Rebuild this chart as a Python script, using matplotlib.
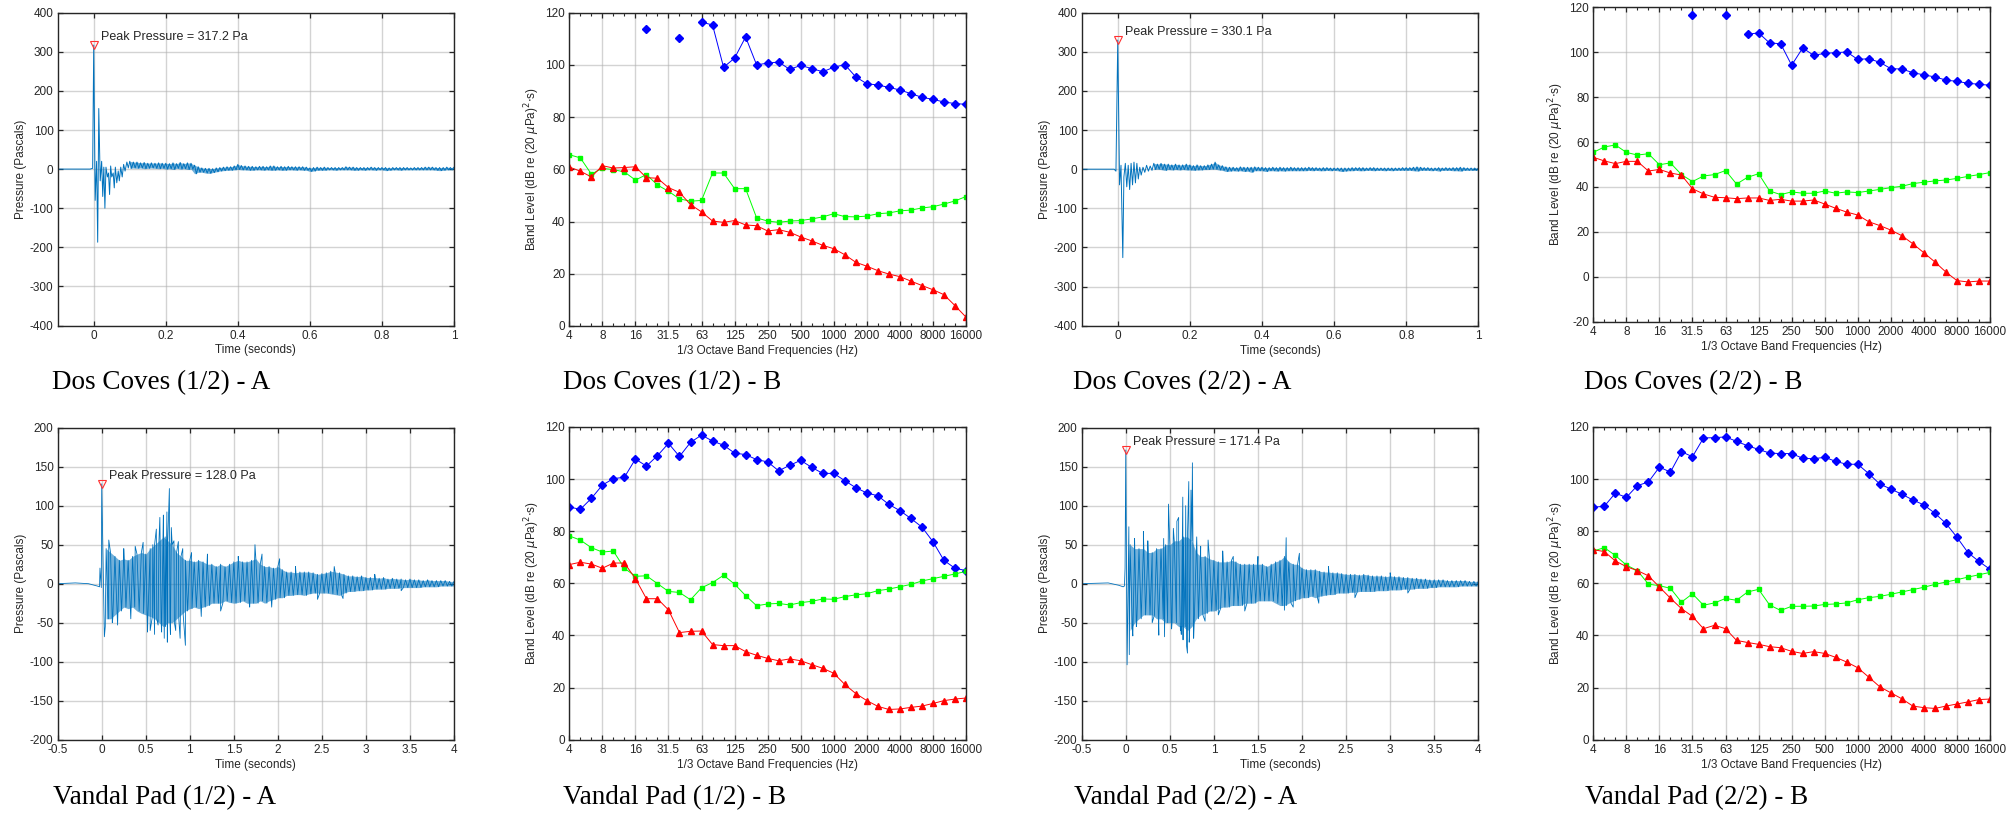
import numpy as np
import matplotlib
matplotlib.use("Agg")
import matplotlib.pyplot as plt
from matplotlib.ticker import FixedLocator, FormatStrFormatter

plt.rcParams['font.family'] = ['Liberation Sans', 'DejaVu Sans']
plt.rcParams['mathtext.fontset'] = 'dejavusans'
plt.rcParams['axes.unicode_minus'] = False

WAVE_C = '#0072BD'
TXT_C = '#262626'

# ---------------- 1/3 octave band data (index 0..36 = 4 Hz .. 16 kHz) ----------------
band_labels = ['4', '8', '16', '31.5', '63', '125', '250', '500', '1000',
               '2000', '4000', '8000', '16000']
nan = np.nan

dc1_blue = [nan, nan, nan, nan, nan, nan, nan, 113.7, nan, nan, 110.3, nan,
            116.4, 115.3, 99.1, 102.6, 110.7, 100.0, 100.7, 101.1, 98.3, 99.8,
            98.6, 97.4, 99.1, 100.1, 95.4, 92.8, 92.3, 91.4, 90.4, 89.0, 87.6,
            86.8, 85.8, 85.2, 84.9]
dc1_green = [65.6, 64.4, 58.2, 60.4, 59.9, 59.0, 55.9, 58.0, 54.0, 51.6, 48.7,
             47.8, 48.1, 58.6, 58.6, 52.6, 52.6, 41.4, 40.2, 39.7, 40.2, 40.4,
             41.0, 41.8, 43.0, 41.9, 41.8, 42.1, 43.0, 43.3, 44.1, 44.4, 45.2,
             45.7, 46.7, 47.9, 49.6]
dc1_red = [60.9, 59.3, 57.1, 61.4, 60.5, 60.7, 61.0, 56.8, 56.6, 53.0, 51.2,
           46.5, 43.7, 40.2, 39.7, 40.4, 38.7, 38.4, 36.4, 36.9, 35.9, 34.1,
           32.6, 30.9, 29.6, 27.3, 24.4, 22.9, 21.2, 19.9, 18.9, 17.2, 15.5,
           13.9, 12.0, 7.8, 3.4]

dc2_blue = [nan, nan, nan, nan, nan, nan, nan, nan, nan, 116.6, nan, nan,
            116.4, nan, 108.0, 108.6, 104.1, 103.8, 94.2, 101.9, 98.6, 99.5,
            99.8, 100.1, 96.8, 97.1, 95.5, 92.7, 92.5, 90.9, 89.9, 89.0, 87.6,
            87.0, 86.2, 85.7, 85.3]
dc2_green = [55.4, 57.8, 58.7, 55.4, 54.2, 54.8, 49.9, 50.7, 45.5, 42.4, 44.9,
             45.5, 47.3, 41.3, 44.3, 45.9, 38.2, 36.6, 37.8, 37.2, 37.2, 38.2,
             37.2, 37.8, 37.5, 38.2, 38.9, 39.7, 40.3, 41.5, 42.1, 42.7, 43.1,
             43.8, 44.7, 45.5, 46.4]
dc2_red = [53.2, 51.6, 50.4, 51.4, 51.4, 47.1, 47.8, 46.2, 45.3, 39.2, 36.9,
           35.4, 35.2, 34.8, 35.1, 35.1, 34.0, 34.5, 33.7, 33.7, 34.2, 32.4,
           30.5, 28.8, 27.5, 24.5, 22.8, 20.8, 18.3, 14.7, 10.7, 6.6, 2.1,
           -1.7, -2.3, -1.9, -1.9]

vp1_blue = [89.3, 88.4, 92.6, 97.7, 100.2, 100.7, 107.7, 105.0, 109.0, 113.7,
            108.7, 114.1, 116.9, 114.6, 113.0, 110.0, 109.4, 107.5, 106.6,
            103.2, 105.3, 107.2, 104.5, 102.2, 102.2, 99.4, 96.7, 94.7, 93.6,
            90.3, 87.9, 84.9, 81.6, 76.0, 68.8, 65.8, 64.9]
vp1_green = [78.2, 76.6, 73.7, 72.0, 72.4, 65.8, 62.7, 62.9, 59.9, 56.9, 56.5,
             53.7, 58.3, 60.3, 63.1, 59.7, 55.3, 51.4, 52.1, 52.3, 51.7, 52.6,
             53.1, 54.0, 53.9, 54.9, 55.6, 56.0, 57.2, 57.8, 58.7, 59.6, 60.9,
             61.8, 62.7, 63.6, 64.6]
vp1_red = [67.2, 68.1, 67.4, 65.8, 67.8, 67.8, 61.8, 54.1, 54.1, 49.8, 41.1,
           41.6, 41.7, 36.5, 36.1, 36.1, 33.8, 32.4, 31.2, 30.3, 31.0, 30.3,
           28.8, 27.4, 25.5, 21.2, 17.7, 15.0, 12.8, 11.6, 11.8, 12.4, 12.9,
           13.9, 15.0, 15.6, 16.0]

vp2_blue = [89.2, 89.6, 94.6, 93.0, 97.5, 98.9, 104.6, 102.7, 110.5, 108.6,
            115.8, 115.9, 116.2, 114.5, 112.8, 111.4, 110.0, 109.8, 109.8,
            108.0, 107.8, 108.4, 106.8, 105.7, 105.7, 102.1, 98.1, 96.2, 94.2,
            92.0, 90.1, 86.9, 83.0, 77.7, 71.8, 68.4, 65.4]
vp2_green = [72.4, 73.7, 70.7, 67.0, 64.9, 59.7, 59.1, 58.1, 52.8, 56.0, 51.6,
             52.5, 54.2, 53.5, 56.7, 57.7, 51.7, 49.6, 51.2, 51.2, 51.3, 51.9,
             52.1, 52.5, 53.7, 54.5, 55.0, 55.8, 56.7, 57.6, 58.5, 59.6, 60.5,
             61.4, 62.4, 63.3, 64.2]
vp2_red = [72.9, 72.2, 68.6, 66.4, 64.9, 62.9, 58.6, 54.3, 50.3, 47.3, 42.6,
           43.9, 42.6, 38.1, 37.3, 36.6, 35.7, 35.3, 33.9, 33.1, 33.8, 33.1,
           31.6, 29.8, 27.6, 24.0, 20.3, 18.0, 15.7, 12.9, 12.3, 12.0, 12.9,
           13.7, 14.5, 15.4, 15.6]

# ---------------- pressure waveforms ----------------
# Dos Coves: explicit transient points, then hi/lo per 10 ms bin (0.10 .. 1.00 s)
dc1_peak = 317.2
dc1_tr_t = [-0.1, -0.01, -0.003, 0.0, 0.004, 0.008, 0.011, 0.014, 0.018, 0.022,
            0.025, 0.028, 0.031, 0.034, 0.038, 0.041, 0.044, 0.047, 0.050,
            0.054, 0.057, 0.060, 0.064, 0.068, 0.071, 0.075, 0.079, 0.083,
            0.087, 0.092, 0.096]
dc1_tr_p = [0, 0, 2, 317.2, -80, 20, -187, 155, -30, 20, -70, 5, -100, 5, -20,
            -10, -65, 8, -20, -10, -48, 5, -35, -5, -30, 5, -20, 12, -5, 18, 3]
dc1_hi = [20, 18, 18, 16, 17, 15, 16, 15, 16, 15,
          15, 14, 16, 14, 17, 14, 16, 15, 10, 6,
          3, 2, 2, 1, 3, 4, 5, 6, 6, 8,
          12, 9, 8, 7, 7, 6, 7, 7, 6, 8,
          8, 6, 7, 6, 7, 6, 6, 6, 6, 5,
          3, 4, 5, 4, 5, 4, 4, 4, 4, 4,
          6, 5, 5, 4, 4, 4, 4, 5, 4, 4,
          4, 4, 3, 4, 4, 4, 4, 4, 3, 4,
          4, 4, 5, 5, 5, 4, 4, 4, 5, 4, 5]
dc1_lo = [2, 3, 2, 3, 1, 2, 3, 2, 1, 2,
          0, 1, -1, 2, 0, 1, -1, 0, -12, -8,
          -8, -10, -11, -9, -7, -5, -4, -3, -3, -2,
          -1, -2, -2, -3, -3, -2, -2, -3, -2, -3,
          -3, -2, -3, -3, -2, -2, -3, -2, -3, -3,
          -6, -5, -3, -3, -3, -2, -2, -3, -2, -2,
          -2, -2, -3, -3, -2, -3, -2, -2, -3, -2,
          -2, -4, -3, -2, -2, -3, -2, -2, -2, -2,
          -2, -2, -2, -2, -2, -3, -4, -3, -2, -2, -1]

dc2_peak = 330.1
dc2_tr_t = [-0.1, -0.01, -0.005, 0.0, 0.005, 0.009, 0.014, 0.017, 0.021, 0.025,
            0.029, 0.033, 0.037, 0.041, 0.045, 0.049, 0.053, 0.057, 0.061,
            0.065, 0.070, 0.075, 0.080, 0.085, 0.090, 0.095]
dc2_tr_p = [0, 0, -5, 330.1, -40, 10, -226, -20, 15, -45, 10, -52, 15, -40, 18,
            -35, 15, -25, 5, -15, 5, -8, 10, -5, 8, -3]
dc2_hi = [15, 13, 15, 13, 13, 11, 13, 11, 11, 13,
          11, 9, 11, 9, 9, 11, 13, 18, 11, 9,
          6, 5, 5, 4, 6, 5, 5, 5, 6, 5,
          5, 4, 4, 5, 4, 5, 4, 4, 5, 4,
          4, 4, 4, 5, 4, 4, 3, 4, 4, 3,
          3, 3, 3, 3, 3, 4, 4, 4, 4, 3,
          4, 4, 3, 3, 3, 3, 3, 3, 3, 4,
          4, 4, 5, 6, 5, 4, 4, 3, 3, 4,
          3, 4, 3, 4, 4, 5, 4, 3, 3, 3, 3]
dc2_lo = [-1, 0, -1, -3, -1, -2, -1, -2, -1, -2,
          -2, -3, -2, -2, -1, -1, 0, 0, -2, -3,
          -6, -5, -4, -5, -4, -6, -5, -8, -4, -4,
          -4, -6, -4, -4, -5, -4, -5, -4, -4, -4,
          -4, -4, -4, -3, -4, -3, -4, -4, -3, -4,
          -3, -4, -6, -5, -4, -4, -3, -4, -4, -3,
          -3, -4, -3, -3, -4, -3, -4, -3, -3, -3,
          -3, -3, -4, -5, -3, -3, -3, -4, -3, -5,
          -3, -3, -3, -4, -4, -5, -3, -3, -3, -3, -2]

# Vandal Pad: pre-trigger points, hi/lo per 50 ms bin (0.05 .. 4.00 s), plus spikes
vp1_peak = 128.0
vp1_pre_t = [-0.5, -0.3, -0.15, -0.05, -0.025, -0.02, -0.005, 0.0]
vp1_pre_p = [0, 1, 0, -3, -4, 20, -5, 128.0]
vp1_hi = [45, 40, 35, 30, 32, 30, 35, 38, 40, 38, 45, 50, 55, 60, 55, 50, 40, 35,
          30, 30, 28, 30, 28, 25, 25, 22, 25, 22, 25, 28, 30, 28, 28, 30, 32, 25,
          22, 22, 20, 22, 18, 15, 15, 14, 15, 15, 15, 14, 12, 13, 14, 16, 15, 14,
          12, 10, 10, 9, 10, 8, 8, 8, 7, 8, 6, 7, 6, 6, 5, 6, 5, 5, 4, 5, 4, 4,
          4, 4, 3, 3]
vp1_lo = [-45, -45, -40, -35, -30, -32, -30, -35, -38, -40, -42, -45, -50, -55,
          -50, -50, -45, -40, -35, -32, -30, -32, -30, -28, -25, -25, -25, -22,
          -24, -25, -24, -22, -25, -25, -25, -22, -25, -22, -20, -18, -18, -15,
          -15, -14, -14, -15, -13, -12, -12, -12, -12, -13, -14, -15, -12, -10,
          -10, -9, -9, -8, -8, -7, -7, -7, -6, -6, -6, -5, -5, -5, -5, -5, -4,
          -4, -4, -4, -3, -3, -3, -3]
vp1_spk_t = [0.03, 0.04, 0.08, 0.12, 0.18, 0.25, 0.33, 0.38, 0.47, 0.52, 0.55,
             0.58, 0.60, 0.62, 0.64, 0.66, 0.68, 0.70, 0.71, 0.72, 0.74, 0.745,
             0.768, 0.78, 0.79, 0.82, 0.84, 0.87, 0.89, 0.92, 0.95, 1.02, 1.13,
             1.20, 1.35, 1.55, 1.68, 1.74, 1.82, 1.93, 2.02, 2.20, 2.45, 2.64,
             2.74, 3.10, 3.40]
vp1_spk_p = [-68, -55, 56, -50, -53, 45, -45, 48, 53, -62, -60, 50, -65, 70,
             -53, 85, -62, 88, -70, 60, 92, -75, 122, -65, 72, 55, -60, 54, -70,
             45, -79, 40, -42, 38, -35, 35, -30, 50, 38, -30, 32, 22, -20, 22,
             -19, 12, -9]

vp2_peak = 171.4
vp2_pre_t = [-0.5, -0.2, -0.08, -0.03, -0.015, -0.008, 0.0]
vp2_pre_p = [0, 1, -2, -4, -3, 20, 171.4]
vp2_hi = [50, 45, 45, 45, 40, 40, 45, 45, 50, 50, 55, 55, 60, 60, 55, 40, 35, 35,
          32, 30, 28, 28, 28, 30, 28, 25, 25, 25, 25, 25, 25, 22, 25, 28, 30, 35,
          28, 25, 25, 20, 18, 18, 18, 16, 15, 15, 14, 14, 13, 12, 12, 12, 11, 12,
          11, 10, 10, 10, 9, 10, 9, 9, 8, 8, 7, 7, 6, 6, 5, 5, 5, 5, 4, 4, 4, 4,
          4, 3, 3, 3]
vp2_lo = [-60, -50, -45, -40, -40, -40, -45, -45, -50, -50, -50, -55, -55, -60,
          -55, -45, -40, -38, -35, -35, -32, -30, -30, -28, -28, -28, -25, -25,
          -25, -22, -22, -22, -22, -25, -28, -28, -25, -22, -20, -18, -18, -16,
          -18, -16, -15, -14, -14, -12, -12, -12, -11, -11, -10, -10, -10, -10,
          -9, -9, -9, -8, -8, -8, -7, -7, -7, -6, -6, -6, -5, -5, -4, -4, -4,
          -4, -4, -3, -3, -3, -3, -3]
vp2_spk_t = [0.015, 0.035, 0.04, 0.08, 0.10, 0.12, 0.20, 0.25, 0.30, 0.375,
             0.43, 0.44, 0.485, 0.52, 0.54, 0.58, 0.60, 0.62, 0.63, 0.647, 0.65,
             0.68, 0.69, 0.70, 0.715, 0.72, 0.74, 0.756, 0.77, 0.805, 0.85, 0.90,
             0.934, 1.05, 1.10, 1.22, 1.35, 1.50, 1.80, 1.82, 1.90, 1.97, 2.19,
             2.30, 2.60, 3.00, 3.20]
vp2_spk_p = [-104, 73, -91, -67, 58, -55, 67, 55, -50, -66, 58, -68, 102, -58,
             71, 80, 85, -60, -65, 111, -72, 100, -80, -89, 131, -75, 120, 155,
             -70, 60, 48, -48, 56, -40, 42, 35, -35, 35, -34, 59, -30, 39, -25,
             22, -18, 14, -12]


def zigzag(t_start, dt, hi, lo):
    n = len(hi)
    tb = t_start + dt * np.arange(n)
    t = np.column_stack([tb, tb + dt / 2]).ravel()
    p = np.column_stack([hi, lo]).ravel()
    return t, p


def wave_series(parts):
    t = np.concatenate([np.asarray(a[0], float) for a in parts])
    p = np.concatenate([np.asarray(a[1], float) for a in parts])
    order = np.argsort(t, kind='stable')
    return t[order], p[order]


def style_axes(ax):
    for s in ax.spines.values():
        s.set_color(TXT_C)
        s.set_linewidth(1.0)
    ax.tick_params(which='both', direction='in', top=True, right=True,
                   colors=TXT_C, labelsize=8.5, pad=3)
    ax.tick_params(which='major', length=3.5, width=0.9)
    ax.tick_params(which='minor', length=2.2, width=0.8)
    ax.grid(True, which='major', color='#b0b0b0', alpha=0.55, linewidth=1.0)
    ax.set_axisbelow(True)


def wave_panel(ax, t, p, peak, xlim, ylim, yticks, xticks, env=None, lw=0.55):
    style_axes(ax)
    if env is not None:
        # dense part of the recording: shade between the read hi/lo envelope
        tb, hi, lo = env
        ax.fill_between(tb, lo, hi, color=WAVE_C, alpha=0.55, lw=0)
    ax.plot(t, p, color=WAVE_C, lw=lw)
    ax.plot([0], [peak], marker='v', ms=5.5, mfc='none', mec='#ff3030', mew=0.8)
    ax.annotate('Peak Pressure = %.1f Pa' % peak, (0, peak), xytext=(5, 5.5),
                textcoords='offset points', ha='left', va='center',
                fontsize=9, color=TXT_C)
    ax.set_xlim(*xlim)
    ax.set_ylim(*ylim)
    ax.set_yticks(yticks)
    ax.set_xticks(xticks)
    ax.xaxis.set_major_formatter(FormatStrFormatter('%g'))
    ax.yaxis.set_major_formatter(FormatStrFormatter('%g'))
    ax.set_xlabel('Time (seconds)', fontsize=8.5, color=TXT_C, labelpad=2)
    ax.set_ylabel('Pressure (Pascals)', fontsize=8.5, color=TXT_C, labelpad=2)


def band_panel(ax, blue, green, red, ylim):
    style_axes(ax)
    idx = np.arange(len(blue))
    ax.plot(idx, blue, color='#0000ff', lw=0.7, marker='D', ms=3.6)
    ax.plot(idx, green, color='#00ff00', lw=0.7, marker='s', ms=3.2)
    ax.plot(idx, red, color='#ff0000', lw=0.7, marker='^', ms=4.0)
    ax.set_xlim(0, len(blue) - 1)
    ax.set_ylim(*ylim)
    ax.set_yticks(np.arange(ylim[0], ylim[1] + 1, 20))
    ax.set_xticks(np.arange(0, len(blue), 3))
    ax.set_xticklabels(band_labels)
    ax.xaxis.set_minor_locator(FixedLocator(idx))
    ax.set_xlabel('1/3 Octave Band Frequencies (Hz)', fontsize=8.5,
                  color=TXT_C, labelpad=2)
    ax.set_ylabel(r'Band Level (dB re (20 $\mu$Pa)$^2$$\cdot$s)', fontsize=8.5,
                  color=TXT_C, labelpad=2)


W, H = 2016, 817
fig = plt.figure(figsize=(W / 100, H / 100), dpi=100)


def add_ax(left, top, right, bottom):
    return fig.add_axes([left / W, 1 - bottom / H, (right - left) / W,
                         (bottom - top) / H])


def env_of(t_start, dt, hi, lo):
    tb = t_start + dt * np.arange(len(hi))
    return tb, np.asarray(hi, float), np.asarray(lo, float)


# top row
ax1 = add_ax(57.7, 12.7, 454, 325.5)
t1, p1 = wave_series([(dc1_tr_t, dc1_tr_p), zigzag(0.10, 0.01, dc1_hi, dc1_lo)])
wave_panel(ax1, t1, p1, dc1_peak, (-0.1, 1), (-400, 400),
           np.arange(-400, 401, 100), np.arange(0, 1.01, 0.2),
           env=env_of(0.10, 0.01, dc1_hi, dc1_lo), lw=0.7)

ax2 = add_ax(569.3, 12.7, 966, 326)
band_panel(ax2, dc1_blue, dc1_green, dc1_red, (0, 120))

ax3 = add_ax(1081.7, 12.7, 1478.3, 325.7)
t3, p3 = wave_series([(dc2_tr_t, dc2_tr_p), zigzag(0.10, 0.01, dc2_hi, dc2_lo)])
wave_panel(ax3, t3, p3, dc2_peak, (-0.1, 1), (-400, 400),
           np.arange(-400, 401, 100), np.arange(0, 1.01, 0.2),
           env=env_of(0.10, 0.01, dc2_hi, dc2_lo), lw=0.7)

ax4 = add_ax(1593.3, 7.3, 1990, 321.7)
band_panel(ax4, dc2_blue, dc2_green, dc2_red, (-20, 120))

# bottom row
ax5 = add_ax(57.7, 427.7, 454, 739.7)
t5, p5 = wave_series([(vp1_pre_t, vp1_pre_p), zigzag(0.05, 0.05, vp1_hi, vp1_lo),
                      (vp1_spk_t, vp1_spk_p)])
wave_panel(ax5, t5, p5, vp1_peak, (-0.5, 4), (-200, 200),
           np.arange(-200, 201, 50), np.arange(-0.5, 4.01, 0.5),
           env=env_of(0.05, 0.05, vp1_hi, vp1_lo), lw=0.6)

ax6 = add_ax(569.3, 427, 966, 739.7)
band_panel(ax6, vp1_blue, vp1_green, vp1_red, (0, 120))

ax7 = add_ax(1081.7, 427.7, 1478.3, 739.7)
t7, p7 = wave_series([(vp2_pre_t, vp2_pre_p), zigzag(0.05, 0.05, vp2_hi, vp2_lo),
                      (vp2_spk_t, vp2_spk_p)])
wave_panel(ax7, t7, p7, vp2_peak, (-0.5, 4), (-200, 200),
           np.arange(-200, 201, 50), np.arange(-0.5, 4.01, 0.5),
           env=env_of(0.05, 0.05, vp2_hi, vp2_lo), lw=0.6)

ax8 = add_ax(1593.3, 427, 1990, 739.7)
band_panel(ax8, vp2_blue, vp2_green, vp2_red, (0, 120))

# captions
captions = [('Dos Coves (1/2) - A', 52, 383), ('Dos Coves (1/2) - B', 563, 383),
            ('Dos Coves (2/2) - A', 1073, 383), ('Dos Coves (2/2) - B', 1584, 383),
            ('Vandal Pad (1/2) - A', 53, 798), ('Vandal Pad (1/2) - B', 563, 798),
            ('Vandal Pad (2/2) - A', 1074, 798), ('Vandal Pad (2/2) - B', 1585, 798)]
for txt, x, y in captions:
    fig.text(x / W, 1 - y / H, txt, ha='left', va='center', fontsize=19.5,
             family='Liberation Serif', color='black')

fig.savefig('out.png', dpi=100)
